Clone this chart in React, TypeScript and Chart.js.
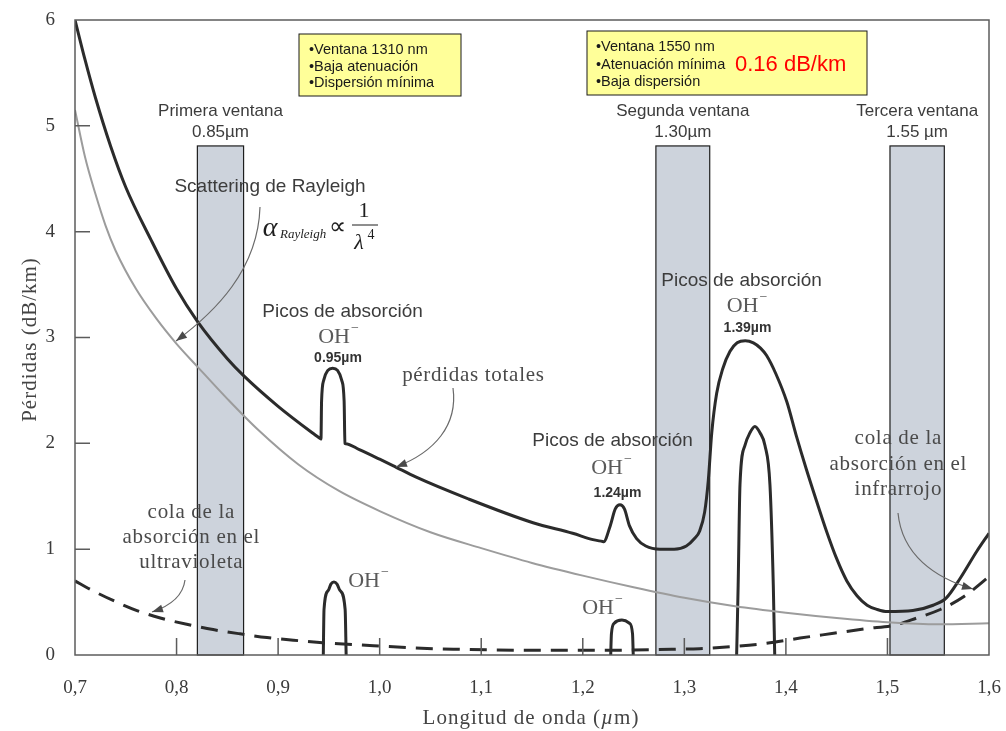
import React, { useEffect, useRef } from "react";
import { Chart, registerables } from "chart.js";

Chart.register(...registerables);

// ---------------- data ----------------
const totalWavelength = [0.700,0.710,0.720,0.735,0.750,0.775,0.800,0.820,0.850,0.866,0.900,0.935,0.9415,0.9422,0.9428,0.9450,0.9490,0.9537,0.9585,0.9625,0.9650,0.9658,0.9665,0.980,1.000,1.013,1.036,1.086,1.151,1.190,1.210,1.2195,1.2205,1.2270,1.2320,1.2366,1.2410,1.2460,1.2530,1.2620,1.2760,1.2900,1.3020,1.3100,1.3150,1.3200,1.3236,1.3270,1.3318,1.3380,1.3450,1.3520,1.3600,1.3680,1.3750,1.3810,1.3900,1.4010,1.4100,1.4200,1.4300,1.4400,1.4500,1.4600,1.4700,1.4800,1.4900,1.5000,1.5250,1.5450,1.5580,1.5720,1.5880,1.6000];
const totalLoss = [6.00,5.62,5.27,4.81,4.42,3.92,3.46,3.16,2.80,2.64,2.35,2.09,2.045,2.04,2.40,2.60,2.69,2.71,2.69,2.60,2.40,2.00,1.997,1.94,1.85,1.79,1.68,1.48,1.25,1.15,1.09,1.072,1.07,1.22,1.38,1.42,1.38,1.22,1.10,1.03,1.00,1.00,1.03,1.10,1.17,1.35,1.65,2.10,2.47,2.71,2.87,2.95,2.97,2.95,2.90,2.83,2.66,2.39,2.08,1.76,1.46,1.17,0.91,0.70,0.56,0.47,0.43,0.41,0.42,0.47,0.54,0.73,0.98,1.15];

const rayleighWavelength = [0.70,0.71,0.72,0.73,0.74,0.76,0.78,0.80,0.82,0.85,0.88,0.92,0.96,1.00,1.05,1.10,1.15,1.20,1.25,1.30,1.35,1.40,1.45,1.50,1.55,1.60];
const rayleighLoss = [5.15,4.70,4.36,4.06,3.82,3.46,3.18,2.94,2.73,2.42,2.13,1.80,1.55,1.36,1.16,1.01,0.87,0.75,0.64,0.54,0.46,0.40,0.35,0.31,0.29,0.30];

const tailWavelength = [0.700,0.715,0.741,0.761,0.784,0.810,0.836,0.8625,0.889,0.915,0.941,0.964,0.994,1.027,1.053,1.080,1.110,1.150,1.200,1.250,1.290,1.315,1.348,1.381,1.414,1.447,1.480,1.506,1.529,1.552,1.575,1.600];
const tailLoss = [0.70,0.62,0.50,0.42,0.35,0.29,0.24,0.20,0.165,0.14,0.118,0.104,0.088,0.07,0.06,0.054,0.048,0.045,0.045,0.047,0.054,0.06,0.08,0.11,0.16,0.205,0.25,0.28,0.35,0.43,0.55,0.74];

const oh095Wavelength = [0.9445,0.9452,0.9494,0.9520,0.9550,0.9580,0.9609,0.9660,0.9670];
const oh095Loss = [0,0.43,0.61,0.67,0.69,0.67,0.61,0.43,0];
const oh124Wavelength = [1.2275,1.2282,1.2310,1.2385,1.2460,1.2490,1.2497];
const oh124Loss = [0,0.20,0.30,0.33,0.30,0.20,0];
const oh139Wavelength = [1.3515,1.3530,1.3548,1.3597,1.3646,1.3695,1.3745,1.3794,1.3843,1.3876,1.3890];
const oh139Loss = [0,0.66,1.61,1.98,2.10,2.16,2.10,1.98,1.61,0.66,0];

const windowStart = [0.8205, 1.272, 1.5025];
const windowEnd = [0.866, 1.325, 1.556];
const windowTop = [4.81, 4.81, 4.81];
const windowNames = ["Primera ventana", "Segunda ventana", "Tercera ventana"];
const windowWavelengths = ["0.85µm", "1.30µm", "1.55 µm"];

const xTickValues = [0.7, 0.8, 0.9, 1.0, 1.1, 1.2, 1.3, 1.4, 1.5, 1.6];
const xTickLabels = ["0,7", "0,8", "0,9", "1,0", "1,1", "1,2", "1,3", "1,4", "1,5", "1,6"];
const yTickValues = [0, 1, 2, 3, 4, 5, 6];
const yTickLabels = ["0", "1", "2", "3", "4", "5", "6"];

const box1310 = ["•Ventana 1310 nm", "•Baja atenuación", "•Dispersión mínima"];
const box1550 = ["•Ventana 1550 nm", "•Atenuación mínima", "•Baja dispersión"];
const box1550Value = "0.16 dB/km";

// ---------------- helpers ----------------
const pts = (xs: number[], ys: number[]) => xs.map((x, i) => ({ x, y: ys[i] }));

const SERIF = '"Liberation Serif", "Times New Roman", serif';
const SANS = '"Liberation Sans", Arial, sans-serif';

// annotation layout is given in reference-pixel space and mapped through the scales
const REF = { left: 75, right: 989, top: 20, bottom: 655, xMin: 0.7, xMax: 1.6, yMin: 0, yMax: 6 };

function mapper(chart: any) {
  const xs = chart.scales.x, ys = chart.scales.y;
  const X = (px: number) => xs.getPixelForValue(REF.xMin + ((px - REF.left) / (REF.right - REF.left)) * (REF.xMax - REF.xMin));
  const Y = (py: number) => ys.getPixelForValue(REF.yMin + ((REF.bottom - py) / (REF.bottom - REF.top)) * (REF.yMax - REF.yMin));
  return { X, Y };
}

function txt(ctx: CanvasRenderingContext2D, s: string, x: number, y: number, font: string, color: string, align: CanvasTextAlign = "center", spacing = 0) {
  ctx.save();
  ctx.font = font;
  ctx.fillStyle = color;
  ctx.textAlign = align;
  ctx.textBaseline = "middle";
  (ctx as any).letterSpacing = spacing + "px";
  ctx.fillText(s, x + (align === "center" ? spacing / 2 : 0), y);
  ctx.restore();
}

function ohLabel(ctx: CanvasRenderingContext2D, cx: number, cy: number) {
  ctx.save();
  ctx.textBaseline = "middle";
  ctx.textAlign = "left";
  ctx.fillStyle = "#5a5a5a";
  ctx.font = `22px ${SERIF}`;
  const w1 = ctx.measureText("OH").width;
  ctx.font = `14px ${SERIF}`;
  const w2 = ctx.measureText("−").width;
  const x0 = cx - (w1 + w2) / 2;
  ctx.font = `22px ${SERIF}`;
  ctx.fillText("OH", x0, cy);
  ctx.font = `14px ${SERIF}`;
  ctx.fillText("−", x0 + w1 + 1, cy - 9);
  ctx.restore();
}

function arrow(ctx: CanvasRenderingContext2D, M: any, p: number[]) {
  const [x0, y0, c1x, c1y, c2x, c2y, x3, y3] = p;
  const P0 = [M.X(x0), M.Y(y0)], C1 = [M.X(c1x), M.Y(c1y)], C2 = [M.X(c2x), M.Y(c2y)], P3 = [M.X(x3), M.Y(y3)];
  ctx.save();
  ctx.strokeStyle = "#6a6a6a";
  ctx.lineWidth = 1.2;
  ctx.beginPath();
  ctx.moveTo(P0[0], P0[1]);
  ctx.bezierCurveTo(C1[0], C1[1], C2[0], C2[1], P3[0], P3[1]);
  ctx.stroke();
  const ang = Math.atan2(P3[1] - C2[1], P3[0] - C2[0]);
  const len = 11, w = 4;
  const bx = P3[0] - len * Math.cos(ang), by = P3[1] - len * Math.sin(ang);
  ctx.fillStyle = "#4a4a4a";
  ctx.beginPath();
  ctx.moveTo(P3[0], P3[1]);
  ctx.lineTo(bx - w * Math.sin(ang), by + w * Math.cos(ang));
  ctx.lineTo(bx + w * Math.sin(ang), by - w * Math.cos(ang));
  ctx.closePath();
  ctx.fill();
  ctx.restore();
}

const windowsPlugin = {
  id: "windows",
  beforeDatasetsDraw(chart: any) {
    const { ctx, scales } = chart;
    const base = scales.y.getPixelForValue(0);
    ctx.save();
    windowStart.forEach((s, i) => {
      const x1 = scales.x.getPixelForValue(s);
      const x2 = scales.x.getPixelForValue(windowEnd[i]);
      const yt = scales.y.getPixelForValue(windowTop[i]);
      ctx.fillStyle = "#cdd3dc";
      ctx.fillRect(x1, yt, x2 - x1, base - yt);
      ctx.strokeStyle = "#1e1e1e";
      ctx.lineWidth = 1.2;
      ctx.strokeRect(x1, yt, x2 - x1, base - yt);
    });
    ctx.restore();
  },
};

const framePlugin = {
  id: "frame",
  afterDatasetsDraw(chart: any) {
    const { ctx, chartArea: a, scales } = chart;
    ctx.save();
    ctx.strokeStyle = "#5c5c5c";
    ctx.lineWidth = 1.5;
    ctx.strokeRect(a.left, a.top, a.right - a.left, a.bottom - a.top);
    ctx.beginPath();
    xTickValues.forEach((v) => {
      const x = scales.x.getPixelForValue(v);
      if (x <= a.left + 1 || x >= a.right - 1) return;
      ctx.moveTo(x, a.bottom);
      ctx.lineTo(x, a.bottom - 17);
    });
    yTickValues.forEach((v) => {
      const y = scales.y.getPixelForValue(v);
      if (y <= a.top + 1 || y >= a.bottom - 1) return;
      ctx.moveTo(a.left, y);
      ctx.lineTo(a.left + 15, y);
    });
    ctx.stroke();
    ctx.restore();
  },
};

const annotationPlugin = {
  id: "annotations",
  afterDraw(chart: any) {
    const { ctx, scales, chartArea: a } = chart;
    const M = mapper(chart);
    const { X, Y } = M;
    const gray = "#3c3c3c";

    // window labels
    windowStart.forEach((s, i) => {
      const cx = scales.x.getPixelForValue((s + windowEnd[i]) / 2);
      const yt = scales.y.getPixelForValue(windowTop[i]);
      txt(ctx, windowNames[i], cx, yt - 35, `17px ${SANS}`, gray);
      txt(ctx, windowWavelengths[i], cx, yt - 14, `17px ${SANS}`, gray);
    });

    // yellow boxes
    ctx.save();
    ctx.fillStyle = "#ffff99";
    ctx.strokeStyle = "#1a1a1a";
    ctx.lineWidth = 1;
    ctx.fillRect(X(299), Y(34), X(461) - X(299), Y(96) - Y(34));
    ctx.strokeRect(X(299), Y(34), X(461) - X(299), Y(96) - Y(34));
    ctx.fillRect(X(587), Y(31), X(867) - X(587), Y(95) - Y(31));
    ctx.strokeRect(X(587), Y(31), X(867) - X(587), Y(95) - Y(31));
    ctx.restore();
    const by1 = [50, 66.5, 83];
    box1310.forEach((s, i) => txt(ctx, s, X(309), Y(by1[i]), `14.5px ${SANS}`, "#1a1a1a", "left"));
    const by2 = [47, 64.5, 81.5];
    box1550.forEach((s, i) => txt(ctx, s, X(596), Y(by2[i]), `14.5px ${SANS}`, "#1a1a1a", "left"));
    txt(ctx, box1550Value, X(735), Y(65), `22px ${SANS}`, "#ff0000", "left");

    // Rayleigh
    txt(ctx, "Scattering de Rayleigh", X(270), Y(187), `19px ${SANS}`, gray);
    ctx.save();
    ctx.fillStyle = "#1e1e1e";
    ctx.textBaseline = "middle";
    ctx.textAlign = "center";
    ctx.font = `italic 28px ${SERIF}`;
    ctx.fillText("α", X(270), Y(229));
    ctx.textAlign = "left";
    ctx.font = `italic 13px ${SERIF}`;
    ctx.fillText("Rayleigh", X(280), Y(235));
    ctx.textAlign = "center";
    ctx.font = `24px ${SERIF}`;
    ctx.fillText("∝", X(337), Y(228));
    ctx.font = `22px ${SERIF}`;
    ctx.fillText("1", X(364), Y(211));
    ctx.font = `italic 22px ${SERIF}`;
    ctx.fillText("λ", X(359), Y(243));
    ctx.font = `14px ${SERIF}`;
    ctx.fillText("4", X(371), Y(235));
    ctx.strokeStyle = "#1e1e1e";
    ctx.lineWidth = 1;
    ctx.beginPath();
    ctx.moveTo(X(352), Y(225));
    ctx.lineTo(X(378), Y(225));
    ctx.stroke();
    ctx.restore();

    // absorption peaks labels
    txt(ctx, "Picos de absorción", X(342.5), Y(311.5), `19px ${SANS}`, gray);
    ohLabel(ctx, X(338), Y(337));
    txt(ctx, "0.95µm", X(338), Y(358), `bold 14px ${SANS}`, "#333");

    txt(ctx, "Picos de absorción", X(612.5), Y(441), `19px ${SANS}`, gray);
    ohLabel(ctx, X(611), Y(468));
    txt(ctx, "1.24µm", X(617.5), Y(493), `bold 14px ${SANS}`, "#333");

    txt(ctx, "Picos de absorción", X(741.5), Y(281), `19px ${SANS}`, gray);
    ohLabel(ctx, X(746.5), Y(306));
    txt(ctx, "1.39µm", X(747.5), Y(328), `bold 14px ${SANS}`, "#333");

    ohLabel(ctx, X(368), Y(581));
    ohLabel(ctx, X(602), Y(608));

    // serif annotations
    const serifFont = `21px ${SERIF}`;
    const sc = "#4a4a4a";
    const sp = 0.7;
    txt(ctx, "pérdidas totales", X(473), Y(375), serifFont, sc, "center", sp);
    txt(ctx, "cola de la", X(898), Y(438), serifFont, sc, "center", sp);
    txt(ctx, "absorción en el", X(898), Y(464), serifFont, sc, "center", sp);
    txt(ctx, "infrarrojo", X(898), Y(489), serifFont, sc, "center", sp);
    txt(ctx, "cola de la", X(191), Y(512), serifFont, sc, "center", sp);
    txt(ctx, "absorción en el", X(191), Y(537), serifFont, sc, "center", sp);
    txt(ctx, "ultravioleta", X(191), Y(562), serifFont, sc, "center", sp);

    // arrows
    arrow(ctx, M, [260, 207, 258, 270, 215, 312, 176, 341]);
    arrow(ctx, M, [453, 388, 458, 425, 435, 452, 396, 467]);
    arrow(ctx, M, [185, 580, 183, 596, 170, 606, 152, 612]);
    arrow(ctx, M, [898, 513, 902, 555, 935, 578, 973, 589]);

    // axis titles
    ctx.save();
    ctx.translate(30, (a.top + a.bottom) / 2 + 2);
    ctx.rotate(-Math.PI / 2);
    ctx.font = `21px ${SERIF}`;
    ctx.fillStyle = "#444";
    ctx.textAlign = "center";
    ctx.textBaseline = "middle";
    (ctx as any).letterSpacing = "1px";
    ctx.fillText("Pérdidas (dB/km)", 0, 0);
    ctx.restore();

    ctx.save();
    ctx.fillStyle = "#444";
    ctx.textBaseline = "middle";
    ctx.textAlign = "left";
    (ctx as any).letterSpacing = "1px";
    const parts: [string, string][] = [["Longitud de onda (", `21px ${SERIF}`], ["µ", `italic 21px ${SERIF}`], ["m)", `21px ${SERIF}`]];
    let total = 0;
    parts.forEach(([s, f]) => { ctx.font = f; total += ctx.measureText(s).width; });
    let x = (a.left + a.right) / 2 - total / 2 - 1;
    parts.forEach(([s, f]) => { ctx.font = f; ctx.fillText(s, x, 718); x += ctx.measureText(s).width; });
    ctx.restore();
  },
};

export default function App() {
  const ref = useRef<HTMLCanvasElement | null>(null);
  useEffect(() => {
    if (!ref.current) return;
    const lineStyle = { pointRadius: 0, fill: false, cubicInterpolationMode: "monotone" as const, borderCapStyle: "butt" as const };
    const hiddenGrid = (len: number) => ({ display: true, drawOnChartArea: false, drawTicks: true, tickLength: len, tickColor: "rgba(0,0,0,0)", color: "rgba(0,0,0,0)" });
    const chart = new Chart(ref.current, {
      type: "line",
      data: {
        datasets: [
          { ...lineStyle, data: pts(rayleighWavelength, rayleighLoss), borderColor: "#9c9c9c", borderWidth: 2 },
          { ...lineStyle, data: pts(tailWavelength, tailLoss), borderColor: "#2b2b2b", borderWidth: 3, borderDash: [17, 10] },
          { ...lineStyle, data: pts(totalWavelength, totalLoss), borderColor: "#2b2b2b", borderWidth: 3 },
          { ...lineStyle, data: pts(oh095Wavelength, oh095Loss), borderColor: "#2b2b2b", borderWidth: 3 },
          { ...lineStyle, data: pts(oh124Wavelength, oh124Loss), borderColor: "#2b2b2b", borderWidth: 3 },
          { ...lineStyle, data: pts(oh139Wavelength, oh139Loss), borderColor: "#2b2b2b", borderWidth: 3 },
        ],
      },
      options: {
        animation: false,
        responsive: false,
        events: [],
        layout: { padding: { left: 0, right: 17, top: 20, bottom: 0 } },
        plugins: { legend: { display: false }, tooltip: { enabled: false }, title: { display: false } },
        scales: {
          x: {
            type: "linear",
            min: 0.7,
            max: 1.6,
            afterFit: (s: any) => { s.height = 76; },
            afterBuildTicks: (s: any) => { s.ticks = xTickValues.map((v) => ({ value: v })); },
            grid: hiddenGrid(22),
            border: { display: false },
            ticks: {
              autoSkip: false,
              maxRotation: 0,
              padding: 0,
              color: "#3a3a3a",
              font: { family: SERIF, size: 19 },
              callback: (v: any) => {
                const i = xTickValues.findIndex((t) => Math.abs(t - Number(v)) < 1e-6);
                return i >= 0 ? xTickLabels[i] : "";
              },
            },
          },
          y: {
            type: "linear",
            min: 0,
            max: 6,
            afterFit: (s: any) => { s.width = 75; },
            afterBuildTicks: (s: any) => { s.ticks = yTickValues.map((v) => ({ value: v })); },
            grid: hiddenGrid(20),
            border: { display: false },
            ticks: {
              padding: 0,
              color: "#3a3a3a",
              font: { family: SERIF, size: 19 },
              callback: (v: any) => {
                const i = yTickValues.findIndex((t) => Math.abs(t - Number(v)) < 1e-6);
                return i >= 0 ? yTickLabels[i] : "";
              },
            },
          },
        },
      },
      plugins: [windowsPlugin, framePlugin, annotationPlugin],
    });
    return () => chart.destroy();
  }, []);

  return (
    <div style={{ position: "absolute", left: 0, top: 0, width: 1006, height: 731, background: "#ffffff" }}>
      <canvas ref={ref} width={1006} height={731} style={{ display: "block", width: 1006, height: 731 }} />
    </div>
  );
}
